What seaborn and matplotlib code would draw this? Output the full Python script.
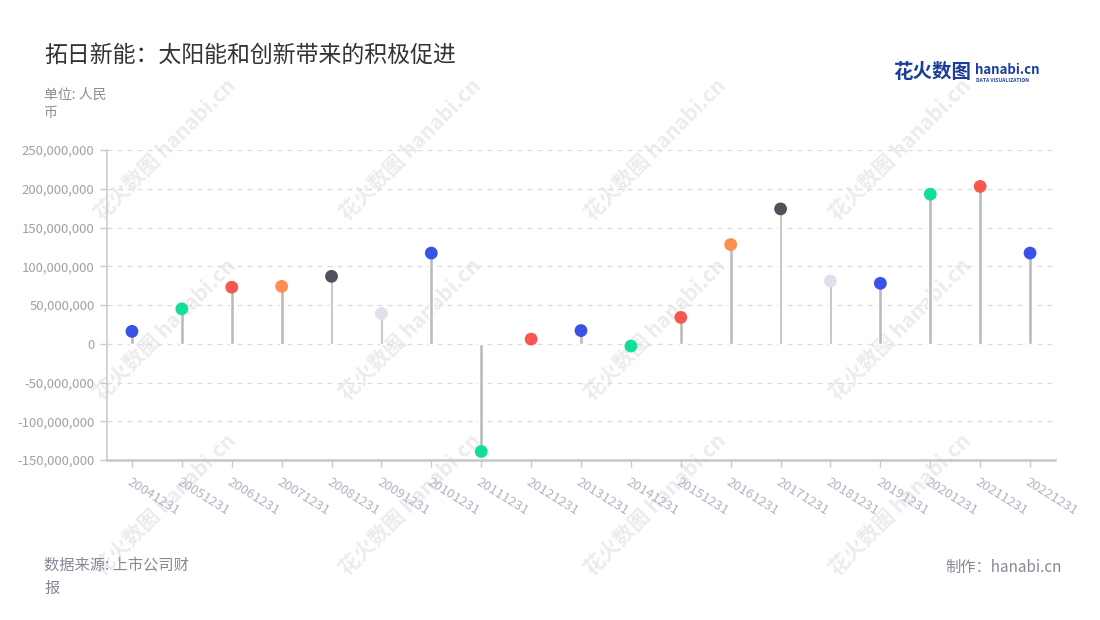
import matplotlib
matplotlib.use("Agg")
import matplotlib.pyplot as plt
import seaborn as sns
import pandas as pd

categories = ["20041231", "20051231", "20061231", "20071231", "20081231", "20091231",
              "20101231", "20111231", "20121231", "20131231", "20141231", "20151231",
              "20161231", "20171231", "20181231", "20191231", "20201231", "20211231",
              "20221231"]
values = [16e6, 45e6, 73e6, 74e6, 87e6, 39e6, 117e6, -139e6, 6e6, 17e6, -3e6, 34e6,
          128e6, 174e6, 81e6, 78e6, 193e6, 203e6, 117e6]
dot_colors = ["#3853e6", "#13dd9a", "#fa5650", "#ff8c50", "#52525c", "#dde2ea",
              "#3853e6", "#13dd9a", "#fa5650", "#3853e6", "#13dd9a", "#fa5650",
              "#ff8c50", "#52525c", "#dde2ea", "#3853e6", "#13dd9a", "#fa5650",
              "#3853e6"]
y_ticks = [-150e6, -100e6, -50e6, 0, 50e6, 100e6, 150e6, 200e6, 250e6]

sns.set_theme(style="white")
plt.rcParams['font.family'] = ['Noto Sans CJK SC', 'DejaVu Sans']

df = pd.DataFrame({"date": categories, "value": values})

fig = plt.figure(figsize=(11, 6.2), dpi=100)
ax = fig.add_axes([107/1100, 1-460/620, (1055-107)/1100, (460-150)/620])
ax.set_facecolor("none")
ax.set_zorder(1)

# watermarks
for wx in [165, 410, 655, 900]:
    for wy in [150, 330, 505]:
        fig.text(wx/1100, 1-wy/620, "花火数图 hanabi.cn", rotation=45, fontsize=15,
                 color="#ececf0", ha="center", va="center", fontweight="bold", zorder=0)

sns.barplot(data=df, x="date", y="value", order=categories, color="#bbbbbb",
            width=0.075, saturation=1, ax=ax, zorder=2)
sns.scatterplot(data=df, x="date", y="value", hue="date", palette=dot_colors,
                hue_order=categories, s=85, edgecolor="none", legend=False, ax=ax, zorder=3)

ax.set_xlim(-0.5, 18.5)
ax.set_ylim(-150e6, 250e6)
ax.set_yticks(y_ticks)
ax.set_yticklabels([f"{int(v):,}" for v in y_ticks])
ax.yaxis.grid(True, linestyle=(0, (4, 4)), color="#dcdcdc", linewidth=0.9)
ax.set_axisbelow(True)
ax.set_xlabel("")
ax.set_ylabel("")
ax.set_xticks(range(len(categories)))
ax.set_xticklabels(categories)
ax.tick_params(axis="x", length=5, width=1, color="#c8c8c8", pad=6, bottom=True,
               labelsize=9.5, labelcolor="#b0b4c2", labelrotation=-32)
ax.tick_params(axis="y", length=5, width=1, color="#c8c8c8", pad=4, left=True,
               labelsize=9.5, labelcolor="#a0a0ac")
for s in ["top", "right"]:
    ax.spines[s].set_visible(False)
ax.spines["left"].set_color("#cccccc")
ax.spines["left"].set_linewidth(1.2)
ax.spines["bottom"].set_color("#c8c8c8")
ax.spines["bottom"].set_linewidth(1.8)

fig.text(44/1100, 1-55/620, "拓日新能：太阳能和创新带来的积极促进", fontsize=16.5,
         color="#333333", ha="left", va="center")
fig.text(44/1100, 1-88/620, "单位: 人民\n币", fontsize=10, color="#8c8c9a",
         ha="left", va="top", linespacing=1.35)
fig.text(44/1100, 1-557/620, "数据来源: 上市公司财\n报", fontsize=11, color="#888894",
         ha="left", va="top", linespacing=1.45)
fig.text(1062/1100, 1-567/620, "制作：hanabi.cn", fontsize=11, color="#888894",
         ha="right", va="center")

# logo
fig.text(893/1100, 1-73/620, "花火数图", fontsize=14, color="#1b3d9e",
         fontweight="bold", ha="left", va="center")
fig.text(975/1100, 1-70/620, "hanabi.cn", fontsize=9.5, color="#1b3d9e",
         fontweight="bold", ha="left", va="center")
fig.text(976/1100, 1-80/620, "DATA VISUALIZATION", fontsize=3.6, color="#1b3d9e",
         fontweight="bold", ha="left", va="center")

fig.canvas.draw()
for lab in ax.get_xticklabels():
    lab.set_ha("left")
    lab.set_va("top")
    lab.set_rotation_mode("anchor")

fig.savefig("out.png", dpi=100)
